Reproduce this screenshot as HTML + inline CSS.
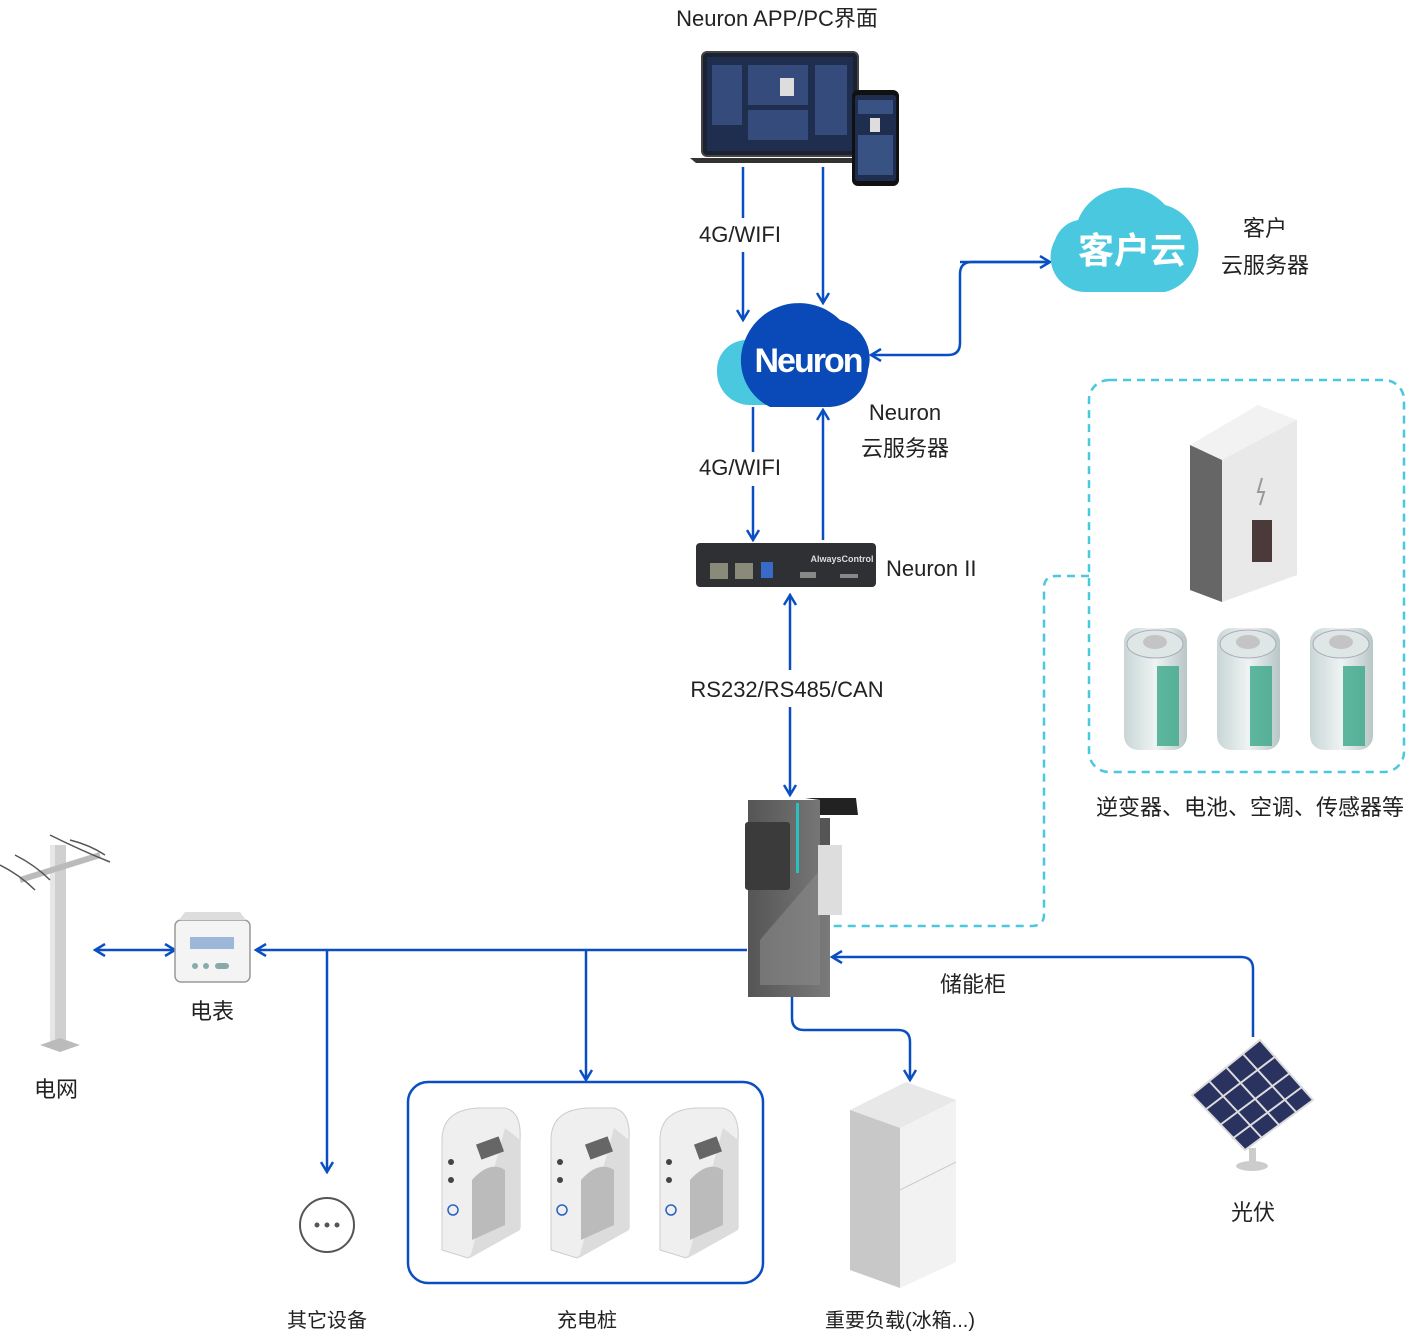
<!DOCTYPE html>
<html><head><meta charset="utf-8"><style>
html,body{margin:0;padding:0;background:#fff;}
svg{display:block;}
text{font-family:"Liberation Sans","Noto Sans CJK SC",sans-serif;fill:#222;}
</style></head><body>
<svg width="1428" height="1338" viewBox="0 0 1428 1338" xmlns="http://www.w3.org/2000/svg">
<defs>
<marker id="a" viewBox="0 0 14 14" refX="12" refY="7" markerWidth="14" markerHeight="14" markerUnits="userSpaceOnUse" orient="auto">
<path d="M2 1 L12 7 L2 13" fill="none" stroke="#0a4fc2" stroke-width="2.5"/>
</marker>
<linearGradient id="bat" x1="0" x2="1"><stop offset="0" stop-color="#c9d6d6"/><stop offset=".5" stop-color="#eef3f3"/><stop offset="1" stop-color="#b8c6c6"/></linearGradient>
<linearGradient id="cab" x1="0" x2="1"><stop offset="0" stop-color="#555"/><stop offset="1" stop-color="#7a7a7a"/></linearGradient>
</defs>

<g font-size="22" text-anchor="middle">
<text x="777" y="26">Neuron APP/PC界面</text>
<text x="740" y="242">4G/WIFI</text>
<text x="740" y="475">4G/WIFI</text>
<text x="905" y="420">Neuron</text>
<text x="905" y="456">云服务器</text>
<text x="1265" y="236">客户</text>
<text x="1265" y="273">云服务器</text>
<text x="886" y="576" text-anchor="start">Neuron  II</text>
<text x="787" y="697">RS232/RS485/CAN</text>
<text x="1250" y="815">逆变器、电池、空调、传感器等</text>
<text x="973" y="992">储能柜</text>
<text x="212" y="1019">电表</text>
<text x="56" y="1097">电网</text>
<text x="1253" y="1220">光伏</text>
<text x="327" y="1327" font-size="20">其它设备</text>
<text x="587" y="1327" font-size="20">充电桩</text>
<text x="900" y="1327" font-size="20">重要负载(冰箱...)</text>
</g>

<!-- laptop & phone -->
<rect x="702" y="52" width="156" height="104" rx="5" fill="#1b2233" stroke="#444" stroke-width="2"/>
<rect x="707" y="57" width="146" height="94" fill="#1f2d4f"/>
<g fill="#4a6aa8" opacity=".5"><rect x="712" y="65" width="30" height="60"/><rect x="748" y="65" width="60" height="40"/><rect x="815" y="65" width="32" height="70"/><rect x="748" y="110" width="60" height="30"/></g>
<rect x="780" y="78" width="14" height="18" fill="#ddd"/>
<path d="M690 158 H864 L858 163 H696 Z" fill="#333"/>
<rect x="852" y="90" width="47" height="96" rx="6" fill="#111"/>
<rect x="855" y="95" width="41" height="86" rx="3" fill="#1f2d4f"/>
<g fill="#4a6aa8" opacity=".6"><rect x="858" y="100" width="35" height="14"/><rect x="858" y="135" width="35" height="40"/></g>
<rect x="870" y="118" width="10" height="14" fill="#ddd"/>

<!-- connectors -->
<g stroke="#0a4fc2" stroke-width="2.5" fill="none">
<path d="M743 167 V218"/><path d="M743 252 V320" marker-end="url(#a)"/>
<path d="M823 167 V303" marker-end="url(#a)"/>
<path d="M1050 262 H972 Q960 262 960 274 V343 Q960 355 948 355 H871" marker-end="url(#a)"/>
<path d="M960 262 H1050" marker-end="url(#a)"/>
<path d="M753 407 V452"/><path d="M753 486 V540" marker-end="url(#a)"/>
<path d="M823 540 V410" marker-end="url(#a)"/>
<path d="M790 670 V595" marker-end="url(#a)"/>
<path d="M790 707 V795" marker-end="url(#a)"/>
<path d="M747 950 H256" marker-end="url(#a)"/>
<path d="M135 950 H95" marker-end="url(#a)"/>
<path d="M135 950 H175" marker-end="url(#a)"/>
<path d="M327 950 V1172" marker-end="url(#a)"/>
<path d="M586 950 V1080" marker-end="url(#a)"/>
<path d="M1253 1037 V969 Q1253 957 1241 957 H832" marker-end="url(#a)"/>
<path d="M792 988 V1018 Q792 1030 804 1030 H898 Q910 1030 910 1042 V1080" marker-end="url(#a)"/>
</g>
<rect x="408" y="1082" width="355" height="201" rx="20" fill="none" stroke="#0a4fc2" stroke-width="2.5"/>

<!-- dashed -->
<g stroke="#4ac8e0" stroke-width="2.5" fill="none" stroke-dasharray="8 6">
<rect x="1089" y="380" width="315" height="392" rx="20"/>
<path d="M1089 576 H1056 Q1044 576 1044 588 V914 Q1044 926 1032 926 H830"/>
</g>

<!-- neuron cloud -->
<path d="M745 340 A30 30 0 0 0 717 372 A33 33 0 0 0 750 405 H800 V340 Z" fill="#4ac8e0"/>
<path d="M770 407 A52 52 0 0 1 745 340 A58 58 0 0 1 840 320 A40 40 0 0 1 868 370 A40 40 0 0 1 830 407 Z" fill="#0a4ab8"/>
<text x="808" y="372" font-size="34" font-weight="bold" text-anchor="middle" style="fill:#fff;letter-spacing:-2px">Neuron</text>

<!-- customer cloud -->
<path d="M1085 292 A35 35 0 0 1 1055 240 A30 30 0 0 1 1078 220 A52 52 0 0 1 1165 205 A45 45 0 0 1 1165 292 Z" fill="#4ac8e0"/>
<text x="1132" y="263" font-size="36" font-weight="bold" text-anchor="middle" style="fill:#fff">客户云</text>

<!-- neuron II -->
<rect x="696" y="543" width="180" height="44" rx="4" fill="#2e3033"/>
<g fill="#8a8a7a"><rect x="710" y="563" width="18" height="16"/><rect x="735" y="563" width="18" height="16"/></g>
<rect x="761" y="562" width="12" height="16" fill="#3a6ac8"/>
<rect x="800" y="572" width="16" height="6" fill="#888"/><rect x="840" y="574" width="18" height="4" fill="#888"/>
<text x="842" y="562" font-size="9" text-anchor="middle" style="fill:#ddd;font-weight:bold">AlwaysControl</text>

<!-- cabinet -->
<path d="M748 800 H820 V818 L830 818 V997 H748 Z" fill="url(#cab)"/>
<path d="M820 818 V915 L842 915 V845 L830 845 V818 Z" fill="#555"/>
<rect x="745" y="822" width="45" height="68" rx="3" fill="#3b3b3b"/>
<path d="M760 940 L820 870 V985 H760 Z" fill="#888" opacity=".6"/>
<rect x="796" y="803" width="3" height="70" fill="#2ac0c0"/>
<rect x="818" y="845" width="24" height="70" fill="#ddd"/>
<path d="M805 798 H856 L858 815 H820 V800 Z" fill="#222"/>

<!-- inverter -->
<path d="M1190 445 L1258 405 L1297 420 V575 L1222 602 L1190 590 Z" fill="#f2f2f2"/>
<path d="M1190 445 L1222 460 V602 L1190 590 Z" fill="#666"/>
<path d="M1222 460 L1297 420 V575 L1222 602 Z" fill="#e9e9e9"/>
<rect x="1252" y="520" width="20" height="42" fill="#4a3a3a"/>
<path d="M1262 478 L1258 492 H1264 L1260 505" stroke="#999" stroke-width="2" fill="none"/>

<!-- batteries -->
<g id="bt" transform="translate(1124,628)"><rect width="63" height="122" rx="14" fill="url(#bat)"/><ellipse cx="31" cy="16" rx="28" ry="14" fill="#dfe6e6" stroke="#aab"/><ellipse cx="31" cy="14" rx="12" ry="7" fill="#c4c4c4"/><rect x="33" y="38" width="22" height="80" fill="#3aa88a" opacity=".8"/></g>
<g transform="translate(1217,628)"><rect width="63" height="122" rx="14" fill="url(#bat)"/><ellipse cx="31" cy="16" rx="28" ry="14" fill="#dfe6e6" stroke="#aab"/><ellipse cx="31" cy="14" rx="12" ry="7" fill="#c4c4c4"/><rect x="33" y="38" width="22" height="80" fill="#3aa88a" opacity=".8"/></g>
<g transform="translate(1310,628)"><rect width="63" height="122" rx="14" fill="url(#bat)"/><ellipse cx="31" cy="16" rx="28" ry="14" fill="#dfe6e6" stroke="#aab"/><ellipse cx="31" cy="14" rx="12" ry="7" fill="#c4c4c4"/><rect x="33" y="38" width="22" height="80" fill="#3aa88a" opacity=".8"/></g>

<!-- pole -->
<rect x="54" y="845" width="12" height="200" fill="#d0d0d0"/>
<rect x="50" y="845" width="5" height="200" fill="#e6e6e6"/>
<path d="M40 1045 L60 1052 L80 1045 L60 1038 Z" fill="#bbb"/>
<path d="M20 880 L100 855" stroke="#bbb" stroke-width="6"/>
<g stroke="#555" stroke-width="1.5" fill="none"><path d="M0 865 Q20 875 35 890"/><path d="M15 855 Q35 865 50 880"/><path d="M50 835 Q80 850 110 862"/><path d="M70 840 Q90 845 105 855"/></g>

<!-- meter -->
<rect x="175" y="920" width="75" height="62" rx="6" fill="#f4f4f4" stroke="#999" stroke-width="1.5"/>
<rect x="190" y="937" width="44" height="12" fill="#9db7d8"/>
<g fill="#8aa"><circle cx="195" cy="966" r="3"/><circle cx="206" cy="966" r="3"/><rect x="215" y="963" width="14" height="6" rx="3"/></g>
<path d="M185 912 H240 L246 920 H179 Z" fill="#ddd"/>

<!-- other -->
<circle cx="327" cy="1225" r="27" fill="none" stroke="#555" stroke-width="2"/>
<g fill="#555"><circle cx="317" cy="1225" r="2.5"/><circle cx="327" cy="1225" r="2.5"/><circle cx="337" cy="1225" r="2.5"/></g>

<!-- chargers -->
<g id="ch">
<path d="M442 1140 Q442 1110 478 1108 L505 1108 Q522 1112 520 1140 V1228 L500 1235 L468 1258 L442 1250 Z" fill="#efefef" stroke="#ccc"/>
<path d="M470 1258 L520 1230 V1140 L505 1128" fill="#dcdcdc"/>
<path d="M472 1240 V1180 Q490 1160 505 1170 V1225 Z" fill="#bbb"/>
<rect x="478" y="1140" width="24" height="16" fill="#666" transform="rotate(-20 490 1148)"/>
<circle cx="451" cy="1162" r="3" fill="#444"/><circle cx="451" cy="1180" r="3" fill="#444"/>
<circle cx="453" cy="1210" r="5" fill="none" stroke="#2a62c0" stroke-width="1.5"/>
</g>
<use href="#ch" x="109"/><use href="#ch" x="218"/>

<!-- fridge -->
<path d="M850 1110 L906 1082 L956 1100 V1262 L900 1288 L850 1270 Z" fill="#e8e8e8"/>
<path d="M850 1110 L900 1128 V1288 L850 1270 Z" fill="#c8c8c8"/>
<path d="M900 1128 L956 1100 V1262 L900 1288 Z" fill="#f2f2f2"/>
<path d="M900 1190 L956 1162" stroke="#ccc"/>

<!-- solar -->
<path d="M1192 1095 L1260 1040 L1313 1100 L1245 1150 Z" fill="#2a3260" stroke="#ddd" stroke-width="2"/>
<g stroke="#ddd" stroke-width="2"><path d="M1209 1081 L1262 1138"/><path d="M1226 1067 L1279 1125"/><path d="M1243 1054 L1296 1112"/><path d="M1205 1110 L1276 1056"/><path d="M1220 1125 L1290 1073"/><path d="M1232 1139 L1302 1087"/></g>
<rect x="1249" y="1148" width="7" height="18" fill="#ccc"/>
<ellipse cx="1252" cy="1166" rx="16" ry="5" fill="#ccc"/>
</svg>
</body></html>
